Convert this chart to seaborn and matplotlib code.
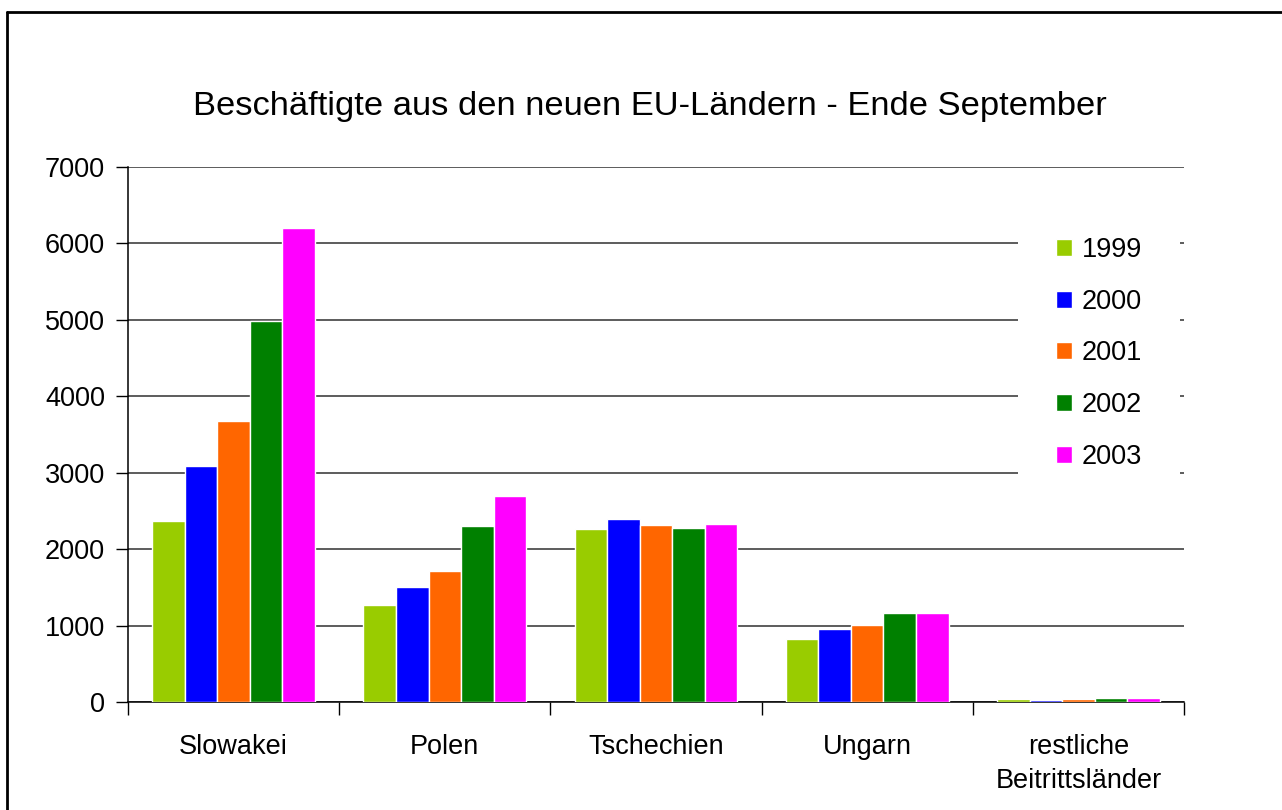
import matplotlib
matplotlib.use("Agg")
import matplotlib.pyplot as plt
import seaborn as sns
import pandas as pd
from matplotlib.lines import Line2D

countries = ["Slowakei", "Polen", "Tschechien", "Ungarn", "restliche\nBeitrittsländer"]
years = ["1999", "2000", "2001", "2002", "2003"]
v1999 = [2370, 1270, 2260, 820, 35]
v2000 = [3090, 1500, 2400, 950, 22]
v2001 = [3680, 1720, 2315, 1010, 35]
v2002 = [4980, 2300, 2280, 1160, 50]
v2003 = [6200, 2690, 2330, 1170, 57]
colors = ["#99CC00", "#0000FF", "#FF6600", "#008000", "#FF00FF"]
title = "Beschäftigte aus den neuen EU-Ländern - Ende September"
yticks = [0, 1000, 2000, 3000, 4000, 5000, 6000, 7000]

rows = []
for yr, vals in zip(years, [v1999, v2000, v2001, v2002, v2003]):
    for c, v in zip(countries, vals):
        rows.append({"Land": c, "Jahr": yr, "Wert": v})
df = pd.DataFrame(rows)

sns.set_style("white")
plt.rcParams["font.family"] = ["Liberation Sans", "DejaVu Sans"]
plt.rcParams["text.color"] = "black"
plt.rcParams["xtick.color"] = "black"
plt.rcParams["ytick.color"] = "black"
plt.rcParams["axes.labelcolor"] = "black"

fig = plt.figure(figsize=(12.82, 8.10), dpi=100)
ax = fig.add_axes([128/1282, 1-702/810, (1184-128)/1282, (702-167)/810])

sns.barplot(data=df, x="Land", y="Wert", hue="Jahr", order=countries, hue_order=years,
            palette=colors, saturation=1, width=0.77, edgecolor="white", linewidth=1,
            ax=ax, zorder=3)

ax.set_xlim(-0.5, 4.5)
ax.set_ylim(0, 7000)
ax.set_yticks(yticks)
ax.set_yticklabels([str(t) for t in yticks], fontsize=19.5)
ax.yaxis.grid(True, color="#303030", linewidth=1.1, zorder=0)
ax.set_axisbelow(True)
ax.set_xlabel("")
ax.set_ylabel("")
for s in ["top", "right"]:
    ax.spines[s].set_visible(False)
for s in ["left", "bottom"]:
    ax.spines[s].set_color("black")
    ax.spines[s].set_linewidth(1.1)

ax.tick_params(axis="y", direction="out", length=9, width=1, color="black", pad=7.5, left=True,
               labelcolor="black")
ax.set_xticks(range(len(countries)))
ax.set_xticklabels(countries, fontsize=19.5, linespacing=1.4, color="black")
ax.tick_params(axis="x", which="major", length=0, pad=23)
ax.set_xticks([i - 0.5 for i in range(len(countries) + 1)], minor=True)
ax.tick_params(axis="x", which="minor", direction="out", length=9, width=1, color="black", bottom=True)

handles = [plt.Rectangle((0, 0), 1, 1, facecolor=c, edgecolor="white") for c in colors]
leg = ax.legend(handles, years, loc="upper left", bbox_to_anchor=((1018-128)/1056, (702-199)/535),
                fontsize=19.5, frameon=True, fancybox=False, framealpha=1, facecolor="white",
                edgecolor="none", handlelength=0.6, handleheight=0.6, handletextpad=0.35,
                labelspacing=0.95, borderpad=1.4, borderaxespad=0)
leg.get_frame().set_linewidth(0)
leg.set_zorder(5)
for t in leg.get_texts():
    t.set_color("black")

fig.text(650/1282, 1-106/810, title, ha="center", va="center", fontsize=24.8, color="black")

fig.add_artist(Line2D([7/1282, 7/1282], [0, 1-12/810], color="black", linewidth=2, transform=fig.transFigure))
fig.add_artist(Line2D([7/1282, 1], [1-12/810, 1-12/810], color="black", linewidth=2, transform=fig.transFigure))

fig.savefig("out.png", dpi=100)
